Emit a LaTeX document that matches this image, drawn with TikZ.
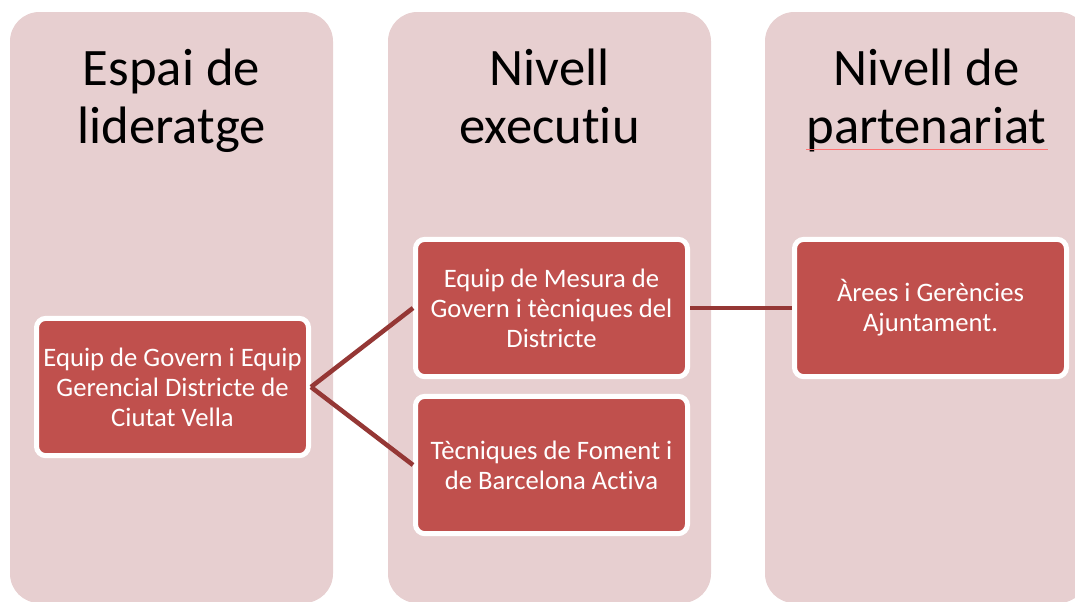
\documentclass[tikz,border=0pt]{standalone}
\usepackage{fontspec}
\setmainfont{Carlito}[RawFeature={-liga;-clig;-calt;-dlig}]
\definecolor{colfill}{HTML}{E7CFD0}
\definecolor{boxfill}{HTML}{C0504D}
\definecolor{linkred}{HTML}{953735}
\begin{document}
\begin{tikzpicture}[x=0.75pt,y=-0.75pt,
  column/.style={fill=colfill,rounded corners=22pt},
  title/.style={align=center,anchor=base,font=\fontsize{39.5}{43}\selectfont},
  unit/.style={draw=white,line width=3.75pt,fill=boxfill,rounded corners=7pt,text=white,align=center,
    minimum width=204pt,minimum height=103pt,inner sep=0pt,font=\fontsize{20}{22.5}\selectfont},
  link/.style={draw=linkred,line width=3.4pt}]

\useasboundingbox (0,0) rectangle (1075,601);
\clip (0,0) rectangle (1075,601);

\fill[column] (10,12) rectangle (333,603);
\node[title] (lead) at (171.5,143) {Espai de\\lideratge};

\fill[column] (388,12) rectangle (711,603);
\node[title] (exec) at (549.5,143) {Nivell\\executiu};

\fill[column] (765,12) rectangle (1088,603);
\node[title] (partner) at (926.5,143) {Nivell de\\partenariat};
\draw[red!55,line width=0.6pt] (806,149) -- (1048,149);

\node[unit] (govern) at (172.5,387) {Equip de Govern i Equip\\Gerencial Districte de\\Ciutat Vella};
\node[unit] (mesura) at (551.5,308) {Equip de Mesura de\\Govern i tècniques del\\Districte};
\node[unit] (foment) at (551.5,465) {Tècniques de Foment i\\de Barcelona Activa};
\node[unit] (arees) at (930.5,308) {Àrees i Gerències\\Ajuntament.};

\draw[link] (govern.east) -- (mesura.west);
\draw[link] (govern.east) -- (foment.west);
\draw[link] (mesura.east) -- (arees.west);
\end{tikzpicture}
\end{document}
